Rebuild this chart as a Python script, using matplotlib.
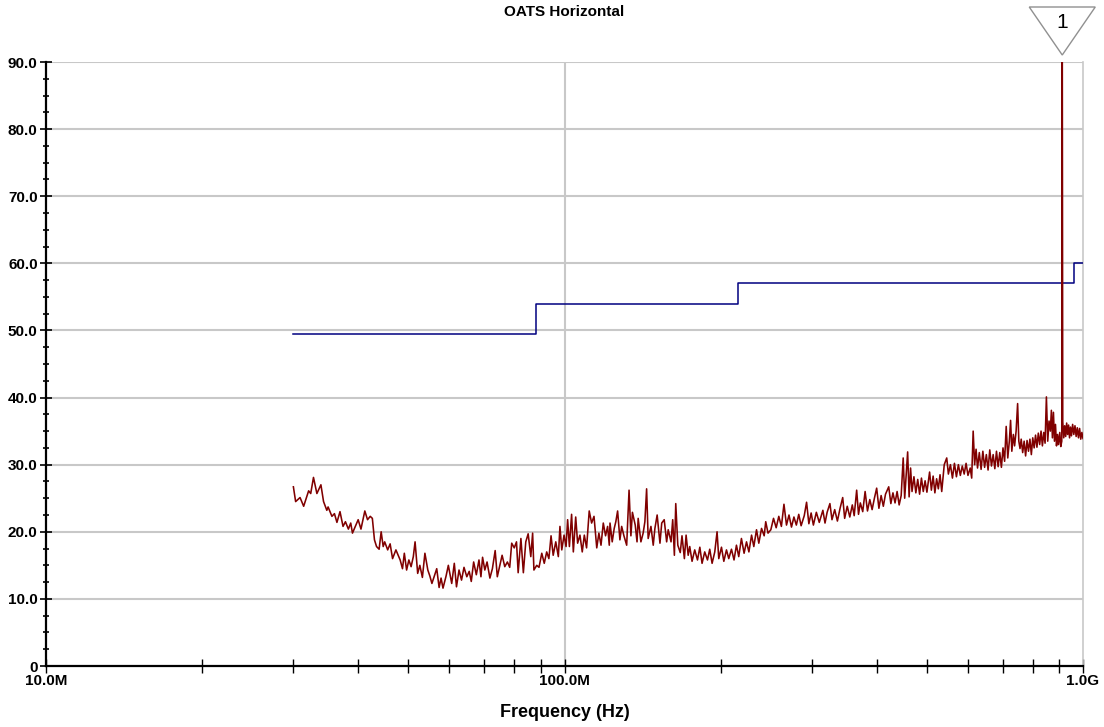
import matplotlib
matplotlib.use("Agg")
import matplotlib.pyplot as plt
from matplotlib.patches import Polygon
from matplotlib.transforms import IdentityTransform
from matplotlib.ticker import FixedLocator, FixedFormatter, MultipleLocator, NullFormatter

plt.rcParams['font.family'] = ['Liberation Sans', 'DejaVu Sans']

# ---------------- data ----------------
title = "OATS Horizontal"
x_label = "Frequency (Hz)"

# limit line (MHz, dBuV/m)
limit_freq_mhz = [30, 88, 216, 960, 1000]
limit_level_db = [49.5, 54.0, 57.0, 60.0, 60.0]

trace_freq_mhz = [
    30.0, 30.3, 30.9, 31.4, 32.1, 32.4, 32.8, 33.3, 33.9, 34.3, 34.8, 35.0, 35.6, 36.0, 36.4,
    36.9, 37.4, 37.8, 38.3, 38.7, 39.0, 39.6, 40.0, 40.5, 41.2, 41.7, 42.2, 42.6, 43.0, 43.4,
    43.9, 44.3, 44.7, 45.0, 45.6, 46.1, 46.6, 47.3, 47.9, 48.2, 48.7, 49.1, 49.6, 50.1, 50.6,
    51.1, 51.5, 52.1, 52.6, 53.2, 53.8, 54.5, 55.0, 55.5, 56.1, 56.7, 57.3, 57.8, 58.3, 59.1,
    59.7, 60.6, 61.3, 61.9, 62.6, 63.3, 64.0, 64.8, 65.5, 66.1, 66.8, 67.6, 68.4, 69.0, 69.5,
    70.2, 70.9, 71.8, 72.6, 73.5, 74.2, 75.2, 75.8, 76.7, 77.6, 78.4, 79.1, 80.0, 80.8, 81.4,
    82.4, 83.3, 84.2, 85.1, 86.1, 86.8, 87.3, 88.4, 89.3, 90.4, 91.4, 92.4, 93.3, 94.2, 95.1,
    96.2, 97.3, 98.0, 98.8, 99.8, 100.7, 101.4, 102.2, 103.2, 104.0, 105.1, 106.0, 107.1, 108.2, 109.2,
    110.3, 111.6, 112.8, 114.0, 115.4, 116.5, 117.6, 118.8, 120.0, 121.1, 122.0, 122.4, 123.6, 124.7, 125.6,
    126.6, 127.9, 128.9, 130.2, 131.8, 133.2, 134.3, 135.2, 136.9, 138.0, 138.7, 140.4, 141.8, 142.9, 144.0,
    145.0, 146.8, 148.3, 149.4, 150.9, 152.8, 154.0, 155.7, 157.4, 158.5, 160.5, 161.7, 162.9, 163.9, 165.4,
    167.2, 168.5, 170.3, 171.6, 173.2, 174.4, 176.2, 178.3, 180.5, 182.4, 184.2, 186.4, 188.7, 190.6, 192.6,
    194.9, 196.9, 198.4, 200.8, 202.9, 205.3, 207.4, 209.9, 212.3, 214.6, 216.8, 219.4, 222.0, 224.4, 226.8,
    229.5, 231.8, 234.6, 237.0, 239.9, 242.7, 244.4, 246.9,
    250, 253, 256, 259, 262, 265, 268, 271, 274, 277, 280, 283, 286, 290, 293,
    296, 299, 302, 306, 310, 315, 318, 321, 325, 328, 332, 336, 340, 344, 347,
    351, 355, 359, 362, 366, 369, 372, 376, 380, 384, 388, 392, 396, 400, 404,
    408, 412, 416, 422, 426, 430, 434, 438, 442, 446, 450, 453, 459, 462, 465,
    468, 472, 476, 480, 484, 488, 492, 496, 500, 506, 510, 514, 518, 522, 526,
    530, 534, 540, 546, 550, 555, 560, 565, 570, 575, 580, 585, 590, 595, 600,
    606, 610, 614, 618, 622, 626, 631, 636, 641, 646, 651, 656, 661, 666, 671,
    676, 681, 686, 691, 696, 701, 706, 711, 716, 721, 725, 729, 734, 738, 743,
    748, 752, 756, 760, 765, 770, 775, 780, 785, 790, 795, 800, 805, 810, 815,
    820, 825, 830, 835, 840, 845, 850, 855, 860, 865, 869, 873, 877, 881, 885,
    889, 893, 897, 902, 906, 910, 912, 914, 918, 922, 926, 930, 934, 938, 942,
    946, 950, 955, 960, 965, 970, 975, 980, 985, 990, 995, 1000,
]
trace_level_db = [
    26.7, 24.5, 25.1, 23.8, 26.1, 25.7, 28.1, 25.7, 27.0, 24.5, 23.2, 23.7, 22.3, 22.7, 21.4,
    23.0, 20.8, 21.5, 20.4, 21.3, 19.8, 21.0, 21.8, 20.4, 23.1, 21.8, 22.3, 22.0, 18.8, 17.8,
    17.4, 20.0, 17.8, 18.5, 17.3, 18.2, 16.0, 17.3, 16.3, 15.8, 14.5, 16.8, 14.3, 15.8, 14.8,
    16.3, 18.5, 13.8, 15.0, 13.2, 16.8, 14.3, 13.4, 12.3, 13.4, 14.5, 11.7, 13.1, 11.6, 13.4,
    15.0, 12.3, 15.3, 11.8, 14.3, 12.8, 14.7, 13.3, 14.1, 12.6, 15.5, 13.6, 15.8, 13.3, 16.2,
    14.3, 15.5, 13.1, 14.5, 17.2, 13.3, 15.3, 16.5, 14.8, 15.5, 14.7, 18.3, 17.6, 18.5, 13.9,
    19.0, 13.9, 18.5, 19.7, 16.3, 19.8, 14.3, 15.0, 14.7, 16.8, 15.3, 17.0, 16.0, 19.4, 16.5,
    18.5, 16.3, 20.8, 17.3, 19.5, 17.8, 21.8, 17.8, 22.6, 17.0, 22.2, 18.3, 19.5, 17.0, 19.5,
    17.6, 23.1, 21.3, 22.3, 17.6, 19.8, 18.0, 21.3, 19.4, 20.8, 18.0, 21.3, 18.5, 20.5, 21.5,
    23.1, 18.8, 20.8, 19.4, 18.0, 26.2, 19.4, 22.9, 21.0, 18.5, 22.0, 18.5, 19.8, 21.5, 26.4,
    19.0, 20.8, 18.0, 20.5, 22.5, 18.3, 21.3, 21.8, 18.5, 20.3, 18.5, 21.8, 16.5, 24.2, 18.0,
    16.9, 19.4, 16.0, 19.5, 16.5, 17.8, 15.6, 17.3, 15.8, 17.7, 15.3, 17.0, 15.8, 17.4, 15.3,
    17.0, 20.0, 16.0, 17.7, 15.6, 17.3, 16.0, 17.4, 15.8, 18.0, 16.3, 19.0, 16.8, 18.5, 17.0,
    19.5, 17.8, 20.3, 18.3, 20.5, 19.4, 21.5, 19.8,
    20.3, 22.0, 20.6, 22.3, 20.8, 24.1, 21.0, 22.5, 20.7, 22.2, 21.0, 22.6, 20.9, 22.4, 24.4,
    21.2, 22.8, 21.0, 22.9, 21.4, 23.2, 21.3, 22.9, 24.2, 21.8, 23.3, 21.6, 23.5, 25.1, 22.0,
    23.8, 22.2, 24.0, 22.4, 26.2, 22.6, 24.3, 23.0, 26.0, 23.1, 24.8, 23.3, 25.0, 26.5, 23.5,
    25.4, 23.8, 25.6, 26.7, 24.2, 25.8, 24.3, 26.0, 24.0, 25.4, 31.0, 25.0, 31.9, 25.2, 29.5,
    26.0, 28.2, 25.8, 27.8, 25.6, 28.0, 26.0, 27.6, 25.9, 28.9, 26.2, 28.3, 25.8, 27.9, 26.4,
    28.5, 26.0, 30.0, 31.0, 28.6, 30.0, 28.0, 30.2, 28.2, 30.0, 28.4, 29.8, 28.6, 30.2, 28.4,
    29.5, 28.0, 35.0, 30.0, 32.3, 29.5, 31.8, 29.3, 32.0, 29.6, 31.5, 29.2, 32.2, 29.8, 31.5,
    29.4, 32.0, 29.7, 31.8, 29.6, 32.5, 30.5, 35.7, 31.0, 33.5, 36.6, 32.0, 34.5, 32.8, 35.0,
    39.1, 33.5, 32.4, 33.8, 31.8, 33.5, 31.3, 33.6, 32.0, 33.8, 31.5, 34.0, 32.5, 34.4, 32.6,
    34.7, 33.0, 35.0, 32.8, 34.8, 33.2, 40.1, 33.5, 36.5, 35.0, 38.1, 34.0, 37.8, 33.5, 36.0,
    32.8, 34.5, 33.0, 34.8, 32.7, 33.5, 95.0, 36.4, 34.0, 35.8, 34.2, 36.2, 34.5, 35.9, 34.0,
    35.6, 34.3, 36.0, 34.5, 35.8, 34.2, 35.5, 34.0, 35.4, 33.8, 34.8, 33.9,
]

marker_label = "1"
marker_freq_mhz = 912

y_major = [0, 10, 20, 30, 40, 50, 60, 70, 80, 90]
y_labels = ["0", "10.0", "20.0", "30.0", "40.0", "50.0", "60.0", "70.0", "80.0", "90.0"]
x_major_hz = [1e7, 1e8, 1e9]
x_labels = ["10.0M", "100.0M", "1.0G"]

# ---------------- figure ----------------
W, H = 1104, 727
fig = plt.figure(figsize=(W / 100, H / 100), dpi=100)
ax = fig.add_axes([46 / W, 61 / H, (1083 - 46) / W, (666 - 62) / H])

grid_col = "#c8c8c8"
trace_col = "#800000"
limit_col = "#000080"

ax.set_xscale("log")
ax.set_xlim(1e7, 1e9)
ax.set_ylim(0, 90)

for yv in y_major[1:]:
    ax.axhline(yv, color=grid_col, lw=1.5, zorder=0)
ax.axvline(1e8, color=grid_col, lw=1.5, zorder=0)

ax.plot([f * 1e6 for f in limit_freq_mhz], limit_level_db, drawstyle="steps-post",
        color=limit_col, lw=1.1, zorder=3)
ax.plot([f * 1e6 for f in trace_freq_mhz], trace_level_db, color=trace_col, lw=1.15, zorder=4)

# axes styling
ax.spines["top"].set_visible(False)
ax.spines["right"].set_color(grid_col)
ax.spines["right"].set_linewidth(1.2)
ax.spines["left"].set_linewidth(1.6)
ax.spines["bottom"].set_linewidth(1.6)

ax.yaxis.set_major_locator(FixedLocator(y_major))
ax.yaxis.set_major_formatter(FixedFormatter(y_labels))
ax.yaxis.set_minor_locator(MultipleLocator(2.5))
ax.tick_params(axis="y", which="major", direction="inout", length=8, width=1.2,
               labelsize=11, pad=2)
ax.tick_params(axis="y", which="minor", direction="inout", length=4, width=1.2)

ax.xaxis.set_major_locator(FixedLocator(x_major_hz))
ax.xaxis.set_major_formatter(FixedFormatter(x_labels))
minor_x = [m * d for d in (1e7, 1e8) for m in range(2, 10)]
ax.xaxis.set_minor_locator(FixedLocator(minor_x))
ax.xaxis.set_minor_formatter(NullFormatter())
ax.tick_params(axis="x", which="both", direction="inout", length=10, width=1.0,
               labelsize=11, pad=1)
for lab in ax.get_xticklabels() + ax.get_yticklabels():
    lab.set_fontweight("bold")

ax.set_xlabel(x_label, fontsize=13, fontweight="bold", labelpad=11)
ax.set_title(title, fontsize=11, fontweight="bold", pad=33)

# marker triangle above the plot
px, py = ax.transData.transform((marker_freq_mhz * 1e6, 90))
tri = Polygon([(px - 33, py + 55), (px + 33, py + 55), (px, py + 7)], closed=True,
              facecolor="white", edgecolor="#909090", lw=1.0, transform=IdentityTransform())
fig.add_artist(tri)
fig.text(px, py + 39, marker_label, transform=IdentityTransform(), ha="center", va="center",
         fontsize=15)

fig.savefig("out.png", dpi=100)
